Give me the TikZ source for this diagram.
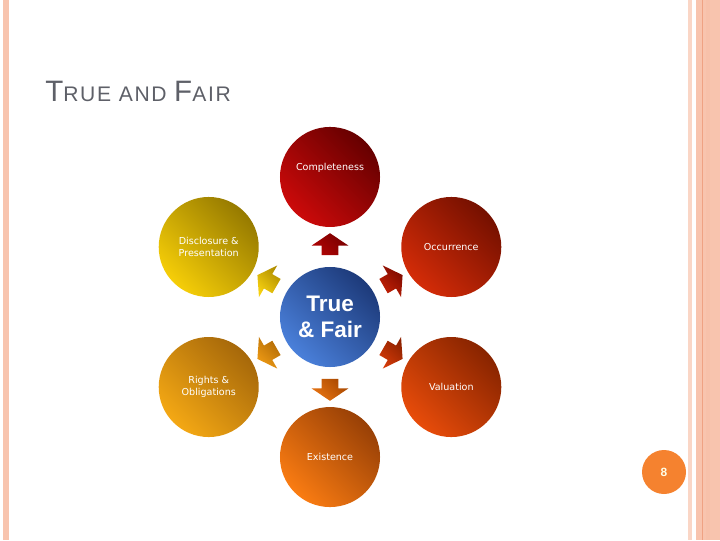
\documentclass[tikz,border=0pt]{standalone}
\usepackage{fontspec}
\setmainfont{Liberation Sans}
\newfontfamily\labelfont{DejaVu Sans}
\newfontfamily\titlefont[LetterSpace=8]{Liberation Sans}
\usetikzlibrary{shapes,arrows,calc}
\definecolor{stripepeach}{HTML}{F8C4AE}
\definecolor{stripeline}{HTML}{EFA283}
\definecolor{titlegrey}{HTML}{5E6068}
\definecolor{pageorange}{HTML}{F5822F}
% circle tones: light / dark
\definecolor{trueL}{HTML}{4A80DA}\definecolor{trueD}{HTML}{1D3A7A}
\definecolor{compL}{HTML}{CC0A0A}\definecolor{compD}{HTML}{660000}
\definecolor{occL}{HTML}{D42C08}\definecolor{occD}{HTML}{751000}
\definecolor{valL}{HTML}{E84C0A}\definecolor{valD}{HTML}{882400}
\definecolor{exiL}{HTML}{FA7C12}\definecolor{exiD}{HTML}{984006}
\definecolor{rigL}{HTML}{F4A814}\definecolor{rigD}{HTML}{A6680A}
\definecolor{disL}{HTML}{F6CE08}\definecolor{disD}{HTML}{967A00}
% arrow tones
\definecolor{pcL}{HTML}{B00404}\definecolor{pcD}{HTML}{780000}
\definecolor{poL}{HTML}{C42206}\definecolor{poD}{HTML}{7E0A00}
\definecolor{pvL}{HTML}{D43A08}\definecolor{pvD}{HTML}{8E2200}
\definecolor{peL}{HTML}{E87412}\definecolor{peD}{HTML}{A84800}
\definecolor{prL}{HTML}{EE9A14}\definecolor{prD}{HTML}{B06A06}
\definecolor{pdL}{HTML}{F6D010}\definecolor{pdD}{HTML}{B08E00}
\newcommand{\titlebig}[1]{{\fontsize{21}{21}\selectfont #1}}
\newcommand{\titlesmall}[1]{{\fontsize{15}{15}\selectfont #1}}
\tikzstyle{place} = [circle, minimum size=2.5cm, inner sep=0pt, text=white, align=center, font=\labelfont\fontsize{6.8}{8.2}\selectfont]
\tikzstyle{pointer} = [single arrow, minimum height=0.55cm, inner xsep=0pt, inner ysep=0.2cm, single arrow head extend=0.25cm, single arrow tip angle=112]
\tikzset{tone/.style 2 args={bottom color=#1, top color=#2, shading angle=-45}}

\begin{document}
\begin{tikzpicture}[x=0.025cm, y=-0.025cm]
	\useasboundingbox (0,0) rectangle (720,540);
	% side stripes
	\fill[stripepeach] (3,0) rectangle (9,540);
	\fill[stripepeach!70] (688,0) rectangle (692,540);
	\fill[stripepeach] (696,0) rectangle (720,540);
	\fill[stripeline] (701.5,0) rectangle (703,540);
	\fill[stripepeach!90!stripeline] (706,0) rectangle (710,540);
	
	\node[anchor=base west, text=titlegrey, inner sep=0pt, font=\titlefont] (title) at (45,101)
		{\titlebig{T}\titlesmall{RUE AND }\titlebig{F}\titlesmall{AIR}};
	
	\node[place, tone={trueL}{trueD}, font=\bfseries\fontsize{16}{18.5}\selectfont] (T) at (330,317) {True\\\& Fair};
	\node[place, tone={compL}{compD}, label={[text=white, font=\labelfont\fontsize{6.8}{8.2}\selectfont, yshift=0.22cm]center:Completeness}] (C) at ([shift={(90:3.5cm)}]T) {};
	\node[place, tone={occL}{occD}] (O) at ([shift={(30:3.5cm)}]T) {Occurrence};
	\node[place, tone={valL}{valD}] (V) at ([shift={(-30:3.5cm)}]T) {Valuation};
	\node[place, tone={exiL}{exiD}] (E) at ([shift={(-90:3.5cm)}]T) {Existence};
	\node[place, tone={rigL}{rigD}] (R) at ([shift={(210:3.5cm)}]T) {Rights \&\\Obligations};
	\node[place, tone={disL}{disD}] (D) at ([shift={(150:3.5cm)}]T) {Disclosure \&\\Presentation};
	
	\node[pointer, rotate=90, tone={pcL}{pcD}] (pc) at ($(T)!0.5!(C)$) {};
	\node[pointer, rotate=30, tone={poL}{poD}] (po) at ($(T)!0.5!(O)$) {};
	\node[pointer, rotate=-30, tone={pvL}{pvD}] (pv) at ($(T)!0.5!(V)$) {};
	\node[pointer, rotate=-90, tone={peL}{peD}] (pe) at ($(T)!0.5!(E)$) {};
	\node[pointer, rotate=210, tone={prL}{prD}] (pr) at ($(T)!0.5!(R)$) {};
	\node[pointer, rotate=150, tone={pdL}{pdD}] (pd) at ($(T)!0.5!(D)$) {};
	
	\node[circle, fill=pageorange, minimum size=1.1cm, inner sep=0pt, text=white!90!yellow, font=\bfseries\fontsize{8.5}{8.5}\selectfont] (page) at (664,472) {8};
\end{tikzpicture}
\end{document}
